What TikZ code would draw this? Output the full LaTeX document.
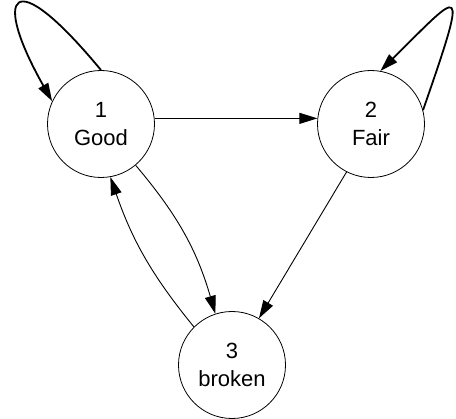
\documentclass[tikz,border=0pt]{standalone}
\usepackage{fontspec}
\setmainfont{Liberation Sans}
\usetikzlibrary{arrows.meta}

\begin{document}
\begin{tikzpicture}[x=1pt,y=-1pt,
    state/.style={circle,draw,line width=0.8pt,minimum size=107pt,inner sep=0pt,align=center,font=\fontsize{22}{28}\selectfont},
    trans/.style={-{Triangle[length=18pt,width=11pt]},line width=0.9pt},
    selfloop/.style={-{Triangle[length=18pt,width=11pt]},line width=1.8pt}]
  \useasboundingbox (0,0) rectangle (456,419);
  % the three states
  \node[state] (good) at (101,124) {1\\Good};
  \node[state] (fair) at (371,124) {2\\Fair};
  \node[state] (broken) at (232,365) {3\\broken};
  % transitions between states
  \draw[trans] (good.6) -- (fair.174);
  \draw[trans] (good.-50) to[bend left=12] (broken.108);
  \draw[trans] (broken.135) to[bend left=10] (good.-80);
  \draw[trans] (fair.-117) -- (broken.60);
  % staying in the same state
  \draw[selfloop] (good.north) .. controls (10,-40) and (-8,-5) .. (good.155);
  \draw[selfloop] (fair.15) .. controls (470,-25) and (462,-10) .. (fair.80);
\end{tikzpicture}
\end{document}
